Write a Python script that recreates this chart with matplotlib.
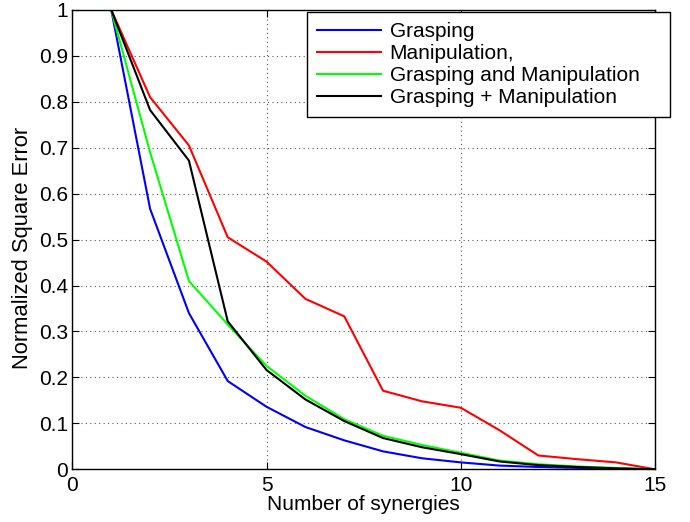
import matplotlib
matplotlib.use("Agg")
import matplotlib.pyplot as plt

plt.rcParams['font.family'] = ['Liberation Sans', 'DejaVu Sans']

synergies = list(range(1, 16))
grasping = [1.0, 0.567, 0.34, 0.192, 0.136, 0.092, 0.063, 0.039, 0.024, 0.015, 0.008, 0.005, 0.003, 0.001, 0.0]
manipulation = [1.0, 0.81, 0.705, 0.505, 0.452, 0.371, 0.333, 0.171, 0.148, 0.134, 0.085, 0.030, 0.022, 0.015, 0.0]
grasp_and_manip = [1.0, 0.69, 0.41, 0.315, 0.225, 0.160, 0.109, 0.073, 0.053, 0.036, 0.019, 0.011, 0.006, 0.003, 0.0]
grasp_plus_manip = [1.0, 0.782, 0.672, 0.322, 0.216, 0.152, 0.105, 0.068, 0.048, 0.033, 0.017, 0.009, 0.005, 0.002, 0.0]

labels = ['Grasping', 'Manipulation,', 'Grasping and Manipulation', 'Grasping + Manipulation']
colors = ['#0000ff', '#ff0000', '#00ff00', '#000000']

fig = plt.figure(figsize=(6.9, 5.22), dpi=100)
ax = fig.add_axes([0.105, 0.101, 0.844, 0.880])

for ys, lab, c in zip([grasping, manipulation, grasp_and_manip, grasp_plus_manip], labels, colors):
    ax.plot(synergies, ys, color=c, lw=1.5, label=lab)

ax.set_xlim(0, 15)
ax.set_ylim(0, 1)
ax.set_xticks([0, 5, 10, 15])
ax.set_yticks([0, 0.1, 0.2, 0.3, 0.4, 0.5, 0.6, 0.7, 0.8, 0.9, 1])
ax.set_yticklabels(['0', '0.1', '0.2', '0.3', '0.4', '0.5', '0.6', '0.7', '0.8', '0.9', '1'])
ax.tick_params(direction='in', labelsize=15, length=5, top=True, right=True)
ax.tick_params(axis='x', pad=5)
ax.tick_params(axis='y', pad=3)
ax.grid(True, linestyle=(0, (1, 3)), color='#555555', lw=0.8)
for s in ax.spines.values():
    s.set_linewidth(1.0)
ax.set_xlabel('Number of synergies', fontsize=15, labelpad=0)
ax.set_ylabel('Normalized Square Error', fontsize=15.8)
ax.yaxis.set_label_coords(-0.0676, 0.4815)

leg = ax.legend(loc='upper left', bbox_to_anchor=(0.4445, 0.5, 0.5265, 0.477),
                bbox_transform=fig.transFigure, mode='expand',
                borderaxespad=0, fontsize=15, handlelength=3.1, handletextpad=0.4,
                labelspacing=0.15, fancybox=False, framealpha=1, edgecolor='black',
                borderpad=0.48)
leg.get_frame().set_linewidth(1.0)

fig.savefig('out.png', dpi=100)
